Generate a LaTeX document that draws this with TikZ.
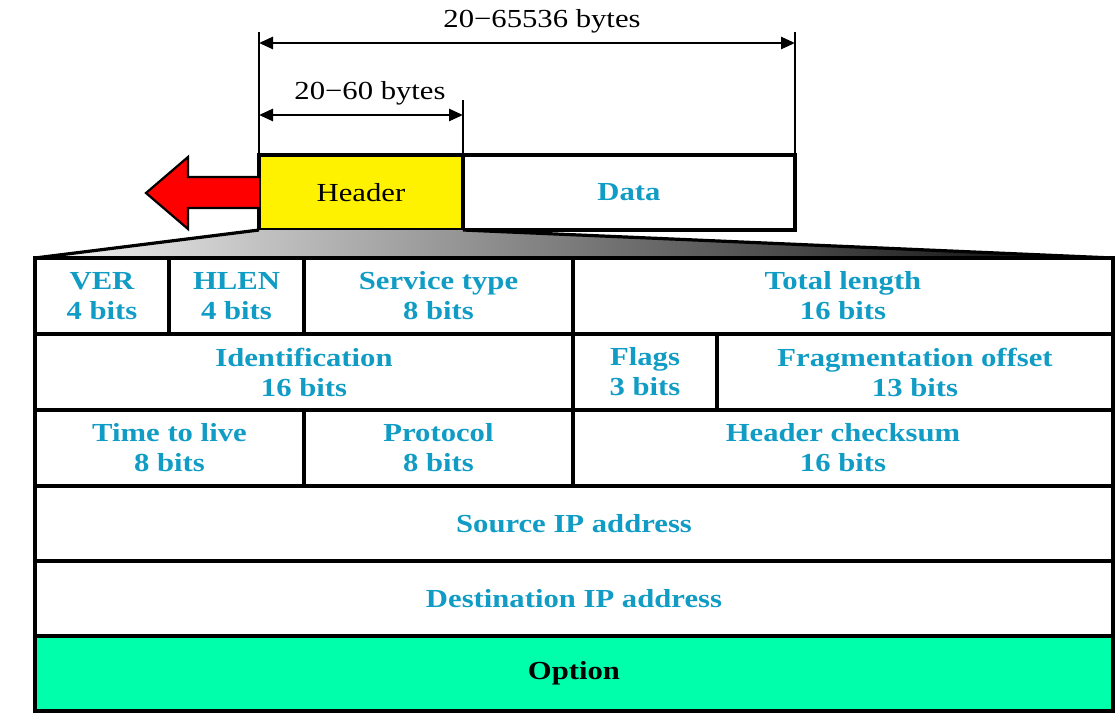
\documentclass[tikz,border=0pt]{standalone}
\usepackage{fontspec}
\setmainfont{Liberation Serif}[FakeStretch=1.18]
\usetikzlibrary{arrows.meta}
\definecolor{fieldblue}{RGB}{16,156,196}
\definecolor{optgreen}{RGB}{0,255,170}
\begin{document}
\begin{tikzpicture}[x=1pt,y=-1pt,
  cell/.style={draw, line width=3.3pt, inner sep=0pt, outer sep=0pt, align=center,
    font=\fontsize{26}{30}\selectfont\bfseries, text=fieldblue},
  box/.style={draw, line width=3.2pt, inner sep=0pt, outer sep=0pt, minimum height=75pt,
    font=\fontsize{26}{30}\selectfont},
  dimline/.style={line width=2.6pt},
  dimarrow/.style={line width=2.6pt,
    {Triangle[length=14pt,width=12pt]}-{Triangle[length=14pt,width=12pt]}},
  dimlabel/.style={font=\fontsize{26}{30}\selectfont, inner sep=0pt}
]
\useasboundingbox (0,0) rectangle (1116,715);

% packet
\node[box, fill=yellow, minimum width=204pt] (hdr) at (361,192.5) {Header};
\node[box, minimum width=332pt, text=fieldblue, font=\fontsize{26}{30}\selectfont\bfseries] (data) at (629,192.5) {Data};

% table
\node[cell, minimum width=134pt, minimum height=76pt] (ver) at (102,296) {VER\\4 bits};
\node[cell, minimum width=135pt, minimum height=76pt] (hlen) at (236.5,296) {HLEN\\4 bits};
\node[cell, minimum width=269pt, minimum height=76pt] (stype) at (438.5,296) {Service type\\8 bits};
\node[cell, minimum width=540pt, minimum height=76pt] (tlen) at (843,296) {Total length\\16 bits};

\node[cell, minimum width=538pt, minimum height=76pt] (ident) at (304,372) {Identification\\16 bits};
\node[cell, minimum width=144pt, minimum height=76pt] (flags) at (645,372) {Flags\\3 bits};
\node[cell, minimum width=396pt, minimum height=76pt] (frag) at (915,372) {Fragmentation offset\\13 bits};

\node[cell, minimum width=269pt, minimum height=76pt] (ttl) at (169.5,448) {Time to live\\8 bits};
\node[cell, minimum width=269pt, minimum height=76pt] (proto) at (438.5,448) {Protocol\\8 bits};
\node[cell, minimum width=540pt, minimum height=76pt] (csum) at (843,448) {Header checksum\\16 bits};

\node[cell, minimum width=1078pt, minimum height=75pt] (src) at (574,523.5) {Source IP address};
\node[cell, minimum width=1078pt, minimum height=75pt] (dst) at (574,598.5) {Destination IP address};
\node[cell, minimum width=1078pt, minimum height=75pt, fill=optgreen, text=black] (opt) at (574,673.5) {Option};

% expansion trapezoid
\shade[left color=gray!8, right color=black] (hdr.south west) -- (hdr.south east) -- (tlen.north east) -- (ver.north west) -- cycle;
\draw[line width=3.2pt] (hdr.south west) -- (ver.north west);
\draw[line width=3.2pt] (hdr.south east) -- (tlen.north east);
\draw[line width=3.3pt] (ver.north west) -- (tlen.north east);

% red arrow
\draw[fill=red, line width=2.2pt, line join=miter]
  (259,177) -- (188,177) -- (188,157) -- (146,193) -- (188,229) -- (188,208) -- (259,208);

% dimension lines
\coordinate (l0) at (259,32);
\coordinate (r0) at (795,32);
\coordinate (m0) at (463,100);
\draw[dimline] (l0) -- (hdr.north west);
\draw[dimline] (r0) -- (data.north east);
\draw[dimline] (m0) -- (hdr.north east);
\coordinate (a1l) at (259,43);
\coordinate (a1r) at (795,43);
\coordinate (a2l) at (259,115);
\coordinate (a2r) at (463,115);
\draw[dimarrow] (a1l) -- (a1r);
\draw[dimarrow] (a2l) -- (a2r);
\node[dimlabel] (lab1) at (542,21) {20−65536 bytes};
\node[dimlabel] (lab2) at (370,93) {20−60 bytes};
\end{tikzpicture}
\end{document}
